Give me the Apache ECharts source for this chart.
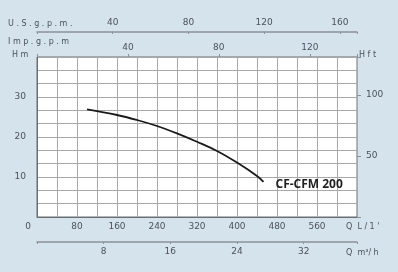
<!DOCTYPE html>
<html><head><meta charset="utf-8">
<script src="https://cdn.jsdelivr.net/npm/echarts@6/dist/echarts.min.js"></script>
<style>html,body{margin:0;padding:0;background:#d4e3ec;}#c{width:398px;height:272px;}</style>
</head><body><div id="c"></div>
<script>
// Data: flow in L/min, head in m
const flowLmin = [100, 160, 200, 240, 280, 320, 360, 400, 440, 453];
const headM = [26.9, 25.5, 24.25, 22.75, 20.9, 18.8, 16.5, 13.6, 10.25, 8.8];
const seriesName = 'CF-CFM 200';
const flowMax = 640; // L/min
const headMax = 40;  // m
const qLabels = [0, 80, 160, 240, 320, 400, 480, 560];
const m3hLabels = [8, 16, 24, 32];
const usLabels = [40, 80, 120, 160];
const impLabels = [40, 80, 120];
const hmLabels = [10, 20, 30];
const hftLabels = [50, 100];

const txt = '#4a535c';
const fam = 'DejaVu Sans';
const fs = 9;
const near = (v, arr) => arr.some(a => Math.abs(a - v) < 1e-6);

const chart = echarts.init(document.getElementById('c'));
chart.setOption({
  backgroundColor: '#d4e3ec',
  animation: false,
  grid: {left: 37, right: 41, top: 57, bottom: 55, show: true, backgroundColor: '#fff', borderColor: '#6b6f73', borderWidth: 1},
  xAxis: [
    {type: 'value', position: 'bottom', min: 0, max: flowMax, interval: 40,
     axisLine: {show: true, onZero: false, lineStyle: {color: '#6b6f73'}}, axisTick: {show: false},
     splitLine: {show: true, lineStyle: {color: '#a8a8a8', width: 1}},
     axisLabel: {color: txt, fontFamily: fam, fontSize: fs, margin: 5,
       formatter: v => v === 0 ? '{z|0}' : (near(v, qLabels) ? String(v) : ''),
       rich: {z: {padding: [0, 18, 0, 0], color: txt, fontFamily: fam, fontSize: fs}}}},
    {type: 'value', position: 'bottom', offset: 25, min: 0, max: flowMax * 0.06, interval: 8,
     axisLine: {show: true, onZero: false, lineStyle: {color: '#8a9198', width: 1.5}},
     axisTick: {show: true, length: 2, lineStyle: {color: '#8a9198'}},
     splitLine: {show: false},
     axisLabel: {color: txt, fontFamily: fam, fontSize: fs, margin: 5,
       formatter: v => near(v, m3hLabels) ? String(v) : ''}},
    {type: 'value', position: 'top', offset: 25, min: 0, max: flowMax / 3.785411784, interval: 40,
     axisLine: {show: true, onZero: false, lineStyle: {color: '#8a9198', width: 1.5}},
     axisTick: {show: true, inside: true, length: 2, lineStyle: {color: '#8a9198'}},
     splitLine: {show: false},
     axisLabel: {color: txt, fontFamily: fam, fontSize: fs, margin: 5,
       formatter: v => near(v, usLabels) ? String(v) : ''}},
    {type: 'value', position: 'top', offset: 0, min: 0, max: flowMax / 4.54609, interval: 40,
     axisLine: {show: false, onZero: false},
     axisTick: {show: true, length: 3, lineStyle: {color: '#8a9198'}},
     splitLine: {show: false},
     axisLabel: {color: txt, fontFamily: fam, fontSize: fs, margin: 5,
       formatter: v => near(v, impLabels) ? String(v) : ''}}
  ],
  yAxis: [
    {type: 'value', position: 'left', min: 0, max: headMax, interval: 10 / 3,
     axisLine: {show: true, onZero: false, lineStyle: {color: '#6b6f73'}}, axisTick: {show: false},
     splitLine: {show: true, lineStyle: {color: '#a8a8a8', width: 1}},
     axisLabel: {color: txt, fontFamily: fam, fontSize: fs, margin: 11,
       formatter: v => { const r = Math.round(v); return (Math.abs(v - r) < 1e-6 && near(r, hmLabels)) ? String(r) : ''; }}},
    {type: 'value', position: 'right', min: 0, max: headMax / 0.3048, interval: 50,
     axisLine: {show: false, onZero: false},
     axisTick: {show: true, length: 4, lineStyle: {color: '#8a9198'}},
     splitLine: {show: false},
     axisLabel: {color: txt, fontFamily: fam, fontSize: fs, margin: 9,
       formatter: v => near(v, hftLabels) ? String(v) : ''}}
  ],
  graphic: [
    {type: 'text', left: 8, top: 20, style: {text: 'U . S . g . p . m .', fill: txt, font: '8px "DejaVu Sans"'}},
    {type: 'text', left: 8, top: 38, style: {text: 'I m p . g . p . m', fill: txt, font: '8px "DejaVu Sans"'}},
    {type: 'text', left: 12, top: 51, style: {text: 'H m', fill: txt, font: '8px "DejaVu Sans"'}},
    {type: 'text', left: 359, top: 51, style: {text: 'H f t', fill: txt, font: '8px "DejaVu Sans"'}},
    {type: 'text', left: 346, top: 223, style: {text: 'Q  L / 1 \'', fill: txt, font: '8px "DejaVu Sans"'}},
    {type: 'text', left: 346, top: 249, style: {text: 'Q  m³/ h', fill: txt, font: '8px "DejaVu Sans"'}}
  ],
  series: [{
    name: seriesName, type: 'line', xAxisIndex: 0, yAxisIndex: 0,
    data: flowLmin.map((q, i) => [q, headM[i]]),
    smooth: 0.4, showSymbol: false, symbol: 'none',
    lineStyle: {color: '#1a1a1a', width: 1.8},
    endLabel: {show: true, formatter: seriesName, distance: 12, offset: [0, 3],
      color: '#1f1f1f', fontFamily: 'Open Sans', fontWeight: 'bold', fontSize: 12}
  }]
});
</script></body></html>
